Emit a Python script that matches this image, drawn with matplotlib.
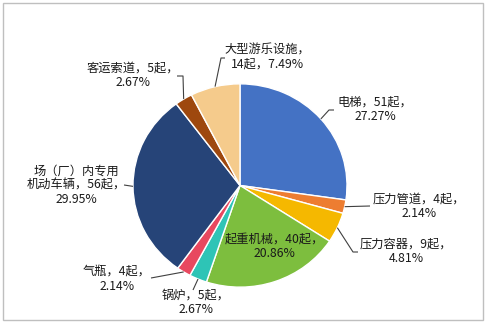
import matplotlib
matplotlib.use("Agg")
import matplotlib.pyplot as plt
import numpy as np
from matplotlib.patches import Rectangle

plt.rcParams['font.family'] = ['Noto Sans CJK SC', 'DejaVu Sans']

categories = ['电梯', '压力管道', '压力容器', '起重机械', '锅炉', '气瓶',
              '场（厂）内专用\n机动车辆', '客运索道', '大型游乐设施']
counts = [51, 4, 9, 40, 5, 4, 56, 5, 14]
percents = [27.27, 2.14, 4.81, 20.86, 2.67, 2.14, 29.95, 2.67, 7.49]
colors = ['#4472C4', '#ED7D31', '#F5B800', '#7DBE3E', '#2EC4B6', '#E8485F',
          '#264478', '#9E480E', '#F5CB8C']

label_texts = [
    '电梯，51起，\n27.27%',
    '压力管道，4起，\n2.14%',
    '压力容器，9起，\n4.81%',
    '起重机械，40起，\n20.86%',
    '锅炉，5起，\n2.67%',
    '气瓶，4起，\n2.14%',
    '场（厂）内专用\n机动车辆，56起，\n29.95%',
    '客运索道，5起，\n2.67%',
    '大型游乐设施，\n14起，7.49%',
]

W, H = 486, 328
SY = 0.95  # vertical squash of the pie


def px(x, y):
    """Pixel position (y from top) to data coordinates."""
    return x, (H - y) / SY


fig = plt.figure(figsize=(W / 100, H / 100), dpi=100)
ax = fig.add_axes([0, 0, 1, 1])

R = 107
cx, cy = px(240, 185.5)
wedges, _ = ax.pie(percents, colors=colors, startangle=90, counterclock=False,
                   center=(cx, cy), radius=R,
                   wedgeprops=dict(edgecolor='white', linewidth=1.0))
ax.set_aspect('auto')
ax.set_xlim(0, W)
ax.set_ylim(0, H / SY)
ax.axis('off')

# label layout: text centre, elbow point, line end (pixel coords, y from top)
layout = [
    dict(text=(375, 109), elbow=(329, 110), end=(334, 110)),
    dict(text=(419, 206), elbow=None, end=(370, 206)),
    dict(text=(406, 251), elbow=(353, 252), end=(358, 252)),
    dict(text=(274, 246), elbow=None, end=None),
    dict(text=(196, 302), elbow=None, end=(193, 290)),
    dict(text=(117, 279), elbow=None, end=(151, 278)),
    dict(text=(76, 185), elbow=None, end=(124, 185)),
    dict(text=(133, 75), elbow=(183, 76), end=(177, 76)),
    dict(text=(267, 57), elbow=(221, 58), end=(225, 58)),
]

for w, txt, lay in zip(wedges, label_texts, layout):
    ax.text(*px(*lay['text']), txt, ha='center', va='center', fontsize=8.8,
            color='#1a1a1a', linespacing=1.12, zorder=5)
    if lay['end'] is None:
        continue
    mid = np.deg2rad((w.theta1 + w.theta2) / 2)
    xs = [cx + R * np.cos(mid)]
    ys = [cy + R * np.sin(mid)]
    for key in ('elbow', 'end'):
        if lay[key] is not None:
            x, y = px(*lay[key])
            xs.append(x); ys.append(y)
    ax.plot(xs, ys, color='#404040', lw=0.8, zorder=4, solid_capstyle='butt')

fig.patches.append(Rectangle((3 / W, 8 / H), 480 / W, 317 / H, transform=fig.transFigure,
                             fill=False, edgecolor='#BFBFBF', linewidth=1.0))

fig.savefig('out.png', dpi=100, facecolor='white')
